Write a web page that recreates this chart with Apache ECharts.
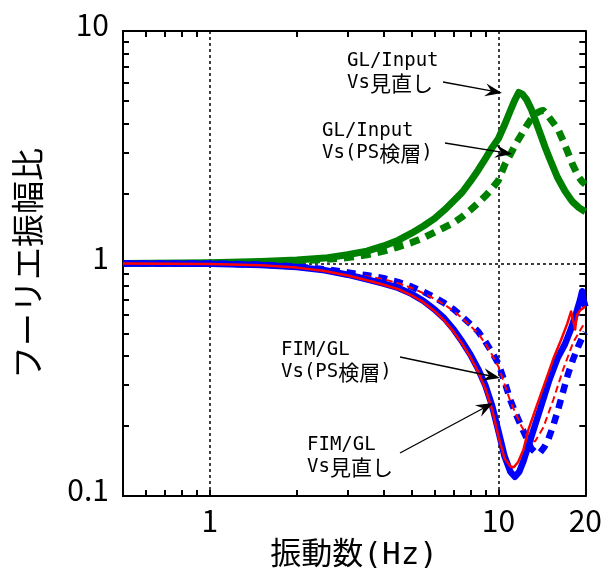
<!DOCTYPE html>
<html><head><meta charset="utf-8">
<script src="https://cdn.jsdelivr.net/npm/echarts@6/dist/echarts.min.js"></script>
<style>html,body{margin:0;padding:0;background:#fff}#c{width:605px;height:581px}</style>
</head><body><div id="c"></div>
<script>
// ---- data ----
const xTickLabels = [1, 10, 20];
const yTickLabels = [0.1, 1, 10];
const xMinorTicks = [0.6, 0.7, 0.8, 0.9, 2, 3, 4, 5, 6, 7, 8, 9];
const yMinorTicks = [0.2, 0.3, 0.4, 0.5, 0.6, 0.7, 0.8, 0.9, 2, 3, 4, 5, 6, 7, 8, 9];

// GL/Input Vs見直し (green solid)
const glRevF = [0.5, 1, 1.5, 2, 2.5, 3, 3.5, 4, 4.5, 5, 5.5, 6, 6.5, 7, 7.5, 8, 8.5, 9, 9.5, 10, 10.5, 11, 11.4, 11.75, 12.1, 12.5, 13, 13.5, 14, 14.5, 15, 16, 17, 18, 19, 20];
const glRevA = [1.0, 1.007, 1.02, 1.035, 1.055, 1.09, 1.13, 1.19, 1.26, 1.35, 1.45, 1.56, 1.70, 1.86, 2.03, 2.26, 2.52, 2.82, 3.15, 3.45, 3.95, 4.55, 5.05, 5.44, 5.35, 5.08, 4.6, 4.05, 3.58, 3.17, 2.85, 2.35, 2.05, 1.85, 1.74, 1.67];
// GL/Input Vs(PS検層) (green dashed)
const glPsF = [0.5, 1, 1.5, 2, 2.5, 3, 3.5, 4, 4.5, 5, 5.5, 6, 6.5, 7, 7.5, 8, 8.5, 9, 9.5, 10, 10.5, 11, 11.5, 12, 12.5, 13, 13.5, 14, 14.3, 14.9, 15.5, 16.1, 16.8, 17.4, 18.1, 18.9, 19.5, 20];
const glPsA = [1.0, 1.0, 1.01, 1.025, 1.04, 1.06, 1.09, 1.13, 1.18, 1.23, 1.29, 1.36, 1.43, 1.50, 1.59, 1.70, 1.82, 1.95, 2.10, 2.28, 2.65, 2.95, 3.28, 3.58, 3.9, 4.2, 4.42, 4.53, 4.55, 4.29, 4.02, 3.77, 3.35, 3.0, 2.65, 2.37, 2.25, 2.19];
// FIM/GL Vs見直し (blue thick solid)
const fimRevBF = [0.5, 1, 1.5, 2, 2.5, 3, 3.5, 4, 4.5, 5, 5.5, 6, 6.5, 7, 7.5, 8, 8.5, 9, 9.5, 10, 10.5, 11, 11.4, 11.8, 12.2, 12.6, 13, 14, 15, 16, 17, 17.8, 18.5, 19.2, 19.5, 19.7, 20];
const fimRevBA = [1.0, 0.997, 0.985, 0.965, 0.935, 0.895, 0.855, 0.82, 0.785, 0.74, 0.69, 0.635, 0.58, 0.52, 0.46, 0.405, 0.352, 0.30, 0.245, 0.19, 0.148, 0.127, 0.121, 0.127, 0.141, 0.16, 0.18, 0.24, 0.315, 0.39, 0.45, 0.52, 0.60, 0.70, 0.76, 0.70, 0.653];
// FIM/GL Vs見直し (red thin solid)
const fimRevRF = [0.5, 1, 1.5, 2, 2.5, 3, 3.5, 4, 4.5, 5, 5.5, 6, 6.5, 7, 7.5, 8, 8.5, 9, 9.5, 10, 10.5, 11, 11.3, 11.7, 12.2, 12.7, 13.5, 14.5, 15.5, 16.5, 17.3, 17.85, 18.2, 18.43, 18.7, 19.2, 20];
const fimRevRA = [1.0, 0.995, 0.982, 0.96, 0.928, 0.888, 0.847, 0.81, 0.775, 0.73, 0.68, 0.625, 0.568, 0.508, 0.45, 0.395, 0.342, 0.29, 0.236, 0.18, 0.145, 0.134, 0.133, 0.14, 0.158, 0.193, 0.24, 0.308, 0.39, 0.471, 0.55, 0.622, 0.56, 0.52, 0.60, 0.63, 0.653];
// FIM/GL Vs(PS検層) (blue thick dashed)
const fimPsBF = [0.5, 1, 1.5, 2, 2.5, 3, 3.5, 4, 4.5, 5, 5.5, 6, 6.5, 7, 7.5, 8, 8.5, 9, 9.5, 10, 10.5, 11, 11.5, 12, 12.5, 13, 13.5, 13.9, 14.4, 14.9, 15.5, 16.1, 16.8, 17.4, 18.1, 18.9, 19.5, 20];
const fimPsBA = [1.0, 1.0, 0.99, 0.97, 0.945, 0.915, 0.89, 0.865, 0.832, 0.795, 0.755, 0.715, 0.675, 0.635, 0.59, 0.548, 0.51, 0.462, 0.415, 0.37, 0.31, 0.258, 0.225, 0.199, 0.178, 0.16, 0.153, 0.153, 0.162, 0.176, 0.202, 0.236, 0.285, 0.333, 0.385, 0.44, 0.48, 0.505];
// FIM/GL Vs(PS検層) (red thin dashed)
const fimPsRF = [0.5, 1, 1.5, 2, 2.5, 3, 3.5, 4, 4.5, 5, 5.5, 6, 6.5, 7, 7.5, 8, 8.5, 9, 9.5, 10, 10.5, 11, 11.5, 12, 12.5, 13, 13.4, 14.3, 15.5, 16.75, 18.14, 20];
const fimPsRA = [1.0, 0.998, 0.987, 0.966, 0.94, 0.908, 0.882, 0.856, 0.822, 0.785, 0.745, 0.705, 0.665, 0.625, 0.58, 0.538, 0.5, 0.453, 0.405, 0.36, 0.302, 0.255, 0.225, 0.2, 0.183, 0.172, 0.172, 0.197, 0.26, 0.35, 0.457, 0.563];

// ---- chart ----
const FONT = '"Noto Sans CJK JP", sans-serif';
const MONO = '"DejaVu Sans Mono", "Noto Sans CJK JP", monospace';
function pairs(f, a) { return f.map((v, i) => [v, a[i]]); }

const chart = echarts.init(document.getElementById('c'), null, { renderer: 'canvas' });
const axLine = { show: true, onZero: false, lineStyle: { color: '#000', width: 2 } };
const tickStyle = { color: '#000', width: 2 };
const baseX = { type: 'log', logBase: 10, min: 0.5, max: 20 };
const baseY = { type: 'log', logBase: 10, min: 0.1, max: 10 };
const hiddenLabel = { show: false };
const noSplit = { show: false };
const grid = { show: false, left: 123, top: 31, width: 464, height: 465 };

function minorAxis(base, pos, vals) {
  return Object.assign({}, base, {
    position: pos, axisLine: axLine,
    axisTick: { show: true, inside: true, length: 6, customValues: vals, lineStyle: tickStyle },
    axisLabel: hiddenLabel, splitLine: noSplit
  });
}

function lineSeries(name, data, color, width, type, z) {
  return {
    type: 'line', name: name, data: data, xAxisIndex: 0, yAxisIndex: 0,
    showSymbol: false, symbol: 'none', smooth: false, z: z,
    lineStyle: { color: color, width: width, type: type, cap: 'butt', join: 'round' }
  };
}

function arrow(x1, y1, x2, y2) {
  const dx = x2 - x1, dy = y2 - y1, len = Math.hypot(dx, dy);
  const ux = dx / len, uy = dy / len, nx = -uy, ny = ux;
  const L = 17, W = 6.5, N = 11;
  const bx = x2 - ux * L, by = y2 - uy * L;
  const mx = x2 - ux * N, my = y2 - uy * N;
  return [
    { type: 'line', shape: { x1: x1, y1: y1, x2: mx, y2: my }, style: { stroke: '#000', lineWidth: 1.3 }, z: 100 },
    { type: 'polygon', shape: { points: [[x2, y2], [bx + nx * W, by + ny * W], [mx, my], [bx - nx * W, by - ny * W]] }, style: { fill: '#000' }, z: 100 }
  ];
}
const labelRich = {
  m: { fontSize: 19, fontFamily: MONO, lineHeight: 22, fill: '#000' },
  c: { fontSize: 21, fontFamily: FONT, lineHeight: 22, fill: '#000' }
};
function label(text, x, y) {
  return { type: 'text', x: x, y: y, z: 100,
    style: { text: text, fontSize: 19, fontFamily: MONO, fill: '#000', lineHeight: 22, verticalAlign: 'top', align: 'left', rich: labelRich } };
}

const option = {
  animation: false,
  backgroundColor: '#fff',
  grid: grid,
  xAxis: [
    Object.assign({}, baseX, {
      position: 'bottom', axisLine: axLine,
      axisTick: { show: true, inside: true, length: 6, customValues: [1, 10], lineStyle: tickStyle },
      axisLabel: { customValues: xTickLabels, fontSize: 30, color: '#000', fontFamily: FONT, margin: 10 },
      splitLine: { show: true, lineStyle: { color: '#000', width: 1.5, type: [3, 3] } },
      name: '振動数(Hz)', nameLocation: 'middle', nameGap: 44,
      nameTextStyle: { fontSize: 31, color: '#000', fontFamily: MONO }
    }),
    minorAxis(baseX, 'bottom', xMinorTicks),
    minorAxis(baseX, 'top', xMinorTicks)
  ],
  yAxis: [
    Object.assign({}, baseY, {
      position: 'left', axisLine: axLine,
      axisTick: { show: true, inside: true, length: 12, customValues: [1], lineStyle: tickStyle },
      axisLabel: { customValues: yTickLabels, color: '#000', margin: 14,
        formatter: v => '{t|' + String(v) + '}',
        rich: { t: { fontSize: 30, color: '#000', fontFamily: FONT, padding: [0, 0, 12, 0] } } },
      splitLine: { show: true, lineStyle: { color: '#000', width: 1.5, type: [3, 3] } },
      name: 'フーリエ振幅比', nameLocation: 'middle', nameGap: 79, nameRotate: 90,
      nameTextStyle: { fontSize: 33, color: '#000', fontFamily: FONT }
    }),
    minorAxis(baseY, 'left', yMinorTicks),
    minorAxis(baseY, 'right', yMinorTicks.concat([1]))
  ],
  series: [
    lineSeries('GL/Input Vs(PS検層)', pairs(glPsF, glPsA), '#008000', 7, [10, 7], 3),
    lineSeries('GL/Input Vs見直し', pairs(glRevF, glRevA), '#008000', 7, 'solid', 4),
    lineSeries('FIM/GL Vs(PS検層) blue', pairs(fimPsBF, fimPsBA), '#0000ff', 6.5, [9, 7], 5),
    lineSeries('FIM/GL Vs(PS検層) red', pairs(fimPsRF, fimPsRA), '#ff0000', 2, [7, 4], 6),
    lineSeries('FIM/GL Vs見直し blue', pairs(fimRevBF, fimRevBA), '#0000ff', 6.5, 'solid', 7),
    lineSeries('FIM/GL Vs見直し red', pairs(fimRevRF, fimRevRA), '#ff0000', 2.5, 'solid', 8)
  ],
  graphic: [
    label('{m|GL/Input}\n{m|Vs}{c|見直し}', 347, 50),
    label('{m|GL/Input}\n{m|Vs(PS}{c|検層}{m|)}', 322, 120),
    label('{m|FIM/GL}\n{m|Vs(PS}{c|検層}{m|)}', 281, 339),
    label('{m|FIM/GL}\n{m|Vs}{c|見直し}', 307, 434)
  ].concat(arrow(443, 82, 502, 93), arrow(445, 143, 512, 154), arrow(400, 357, 500, 378), arrow(400, 453, 493, 403))
};
chart.setOption(option);
</script>
</body></html>
